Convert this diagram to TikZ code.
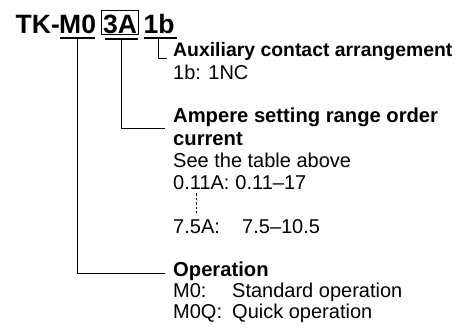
\documentclass[tikz,border=0pt]{standalone}
\usepackage{fontspec}
\setmainfont{Liberation Sans}
\usetikzlibrary{calc}
\begin{document}
\begin{tikzpicture}[x=1pt,y=-1pt,
  txt/.style={anchor=base west, inner sep=0pt, font=\fontsize{20}{24}\selectfont},
  hd/.style={anchor=base west, inner sep=0pt, font=\fontsize{20.2}{24}\selectfont\bfseries},
  hdsmall/.style={anchor=base west, inner sep=0pt, font=\fontsize{19.4}{24}\selectfont\bfseries},
  ttl/.style={anchor=base west, inner sep=0pt, font=\fontsize{26.5}{30}\selectfont\bfseries},
  conn/.style={line width=1pt, black},
  uline/.style={line width=2pt, black},
  boxline/.style={line width=1pt, black},
  dots/.style={line width=1pt, dash pattern=on 2.5pt off 2pt}]
\useasboundingbox (0,0) rectangle (455,325);
% title
\node[ttl] (tk) at (15.5,33) {TK-};
\node[ttl] (m0) at (59,33) {M0};
\node[ttl] (a3) at (103,33) {3A};
\node[ttl] (b1) at (143.5,33) {1b};
\draw[boxline] ($(a3.north west)+(-2,-4)$) rectangle ($(a3.south east)+(1,1)$);
\draw[uline] ($(m0.south west)+(1,5)$) -- ($(m0.south east)+(-1,5)$);
\draw[uline] ($(a3.south west)+(2,5)$) -- ($(a3.south east)+(1,5)$);
\draw[uline] ($(b1.south west)+(0.5,5)$) -- ($(b1.south east)+(2.5,5)$);
\coordinate (m0u) at ($(m0.south)+(0,5)$);
\coordinate (a3u) at ($(a3.south)+(1.5,5)$);
\coordinate (b1u) at ($(b1.south)+(-1,5)$);
% right-hand texts
\node[hdsmall] (aux) at (173,56) {Auxiliary contact arrangement};
\node[txt] (nc) at (173,79) {1b: 1NC};
\node[hd] (amp) at (173,122) {Ampere setting range order};
\node[hd] (cur) at (173,145) {current};
\node[txt] (see) at (173,167) {See the table above};
\node[txt] (r1a) at (173,189) {0.11A:};
\node[txt] (r1b) at ($(r1a.base east)+(5.5,0)$) {0.11--17};
\node[txt] (r2a) at (173,233) {7.5A:};
\node[txt] (r2b) at (242,233) {7.5--10.5};
\node[hd] (op) at (173,276) {Operation};
\node[txt] (o1a) at (173,297) {M0:};
\node[txt] (o1b) at (232,297) {Standard operation};
\node[txt] (o2a) at (173,318) {M0Q:};
\node[txt] (o2b) at (232,318) {Quick operation};
% connector ends
\coordinate (auxc) at ($(aux.base west)+(-6,2)$);
\coordinate (ampc) at ($(amp.base west)+(-8,6)$);
\coordinate (opc) at ($(op.base west)+(-8,-3)$);
\draw[conn] (b1u) |- (auxc);
\draw[conn] (a3u) |- (ampc);
\draw[conn] (m0u) |- (opc);
% dotted continuation
\coordinate (d1) at ($(r1a.base west)+(23,4)$);
\coordinate (d2) at ($(r2a.base west)+(23,-20)$);
\draw[dots] (d1) -- (d2);
\end{tikzpicture}
\end{document}
